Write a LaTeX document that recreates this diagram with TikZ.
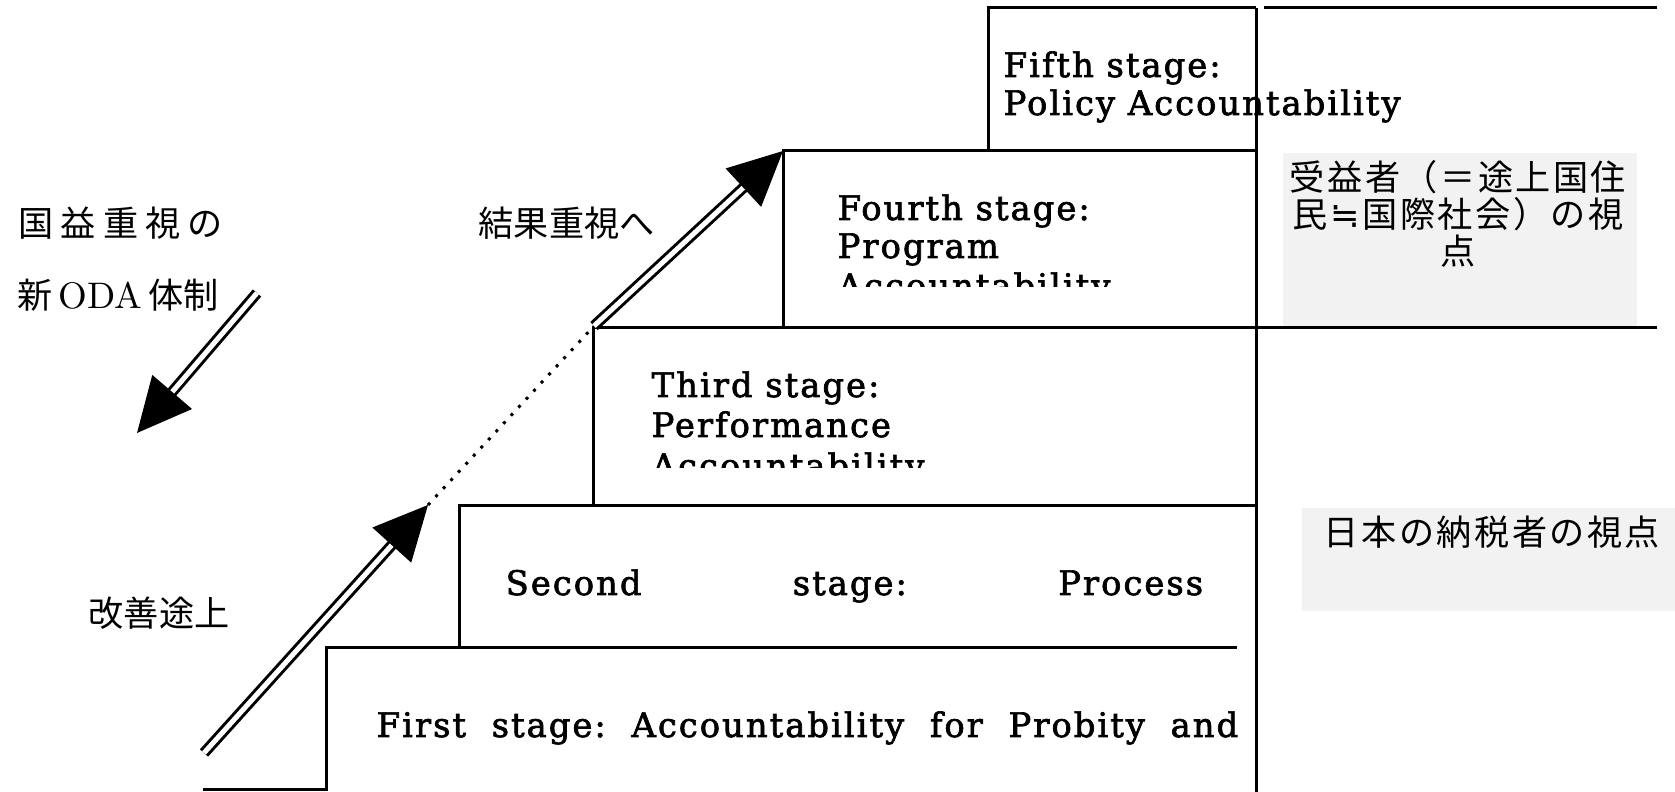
\documentclass[tikz,border=0pt]{standalone}
\usepackage{fontspec}
\newfontfamily\cjk{Noto Sans CJK JP}
\newfontfamily\symfont{DejaVu Sans}
\newfontfamily\stagefont{DejaVu Serif}[LetterSpace=6,FakeBold=2]
\usetikzlibrary{calc,arrows.meta}

\begin{document}
\begin{tikzpicture}[x=0.01cm,y=-0.01cm,
	stepline/.style={line width=0.03cm},
	stagetext/.style={anchor=base west,inner sep=0pt,font=\stagefont\fontsize{9.6pt}{11pt}\selectfont},
	jtext/.style={anchor=west,inner sep=0pt,font=\cjk\fontsize{10pt}{12pt}\selectfont},
	dblshaft/.style={double,double distance=0.05cm,line width=0.03cm,shorten >=0.4cm},
	headtip/.style={-{Triangle[length=0.54cm,width=0.52cm]},line width=0.4pt},
	shade/.style={fill=black!5,draw=none}]
	\useasboundingbox (0,0) rectangle (1675,792);
	\fill[shade] (1283,153) rectangle (1637,327); %受益者
	\fill[shade] (1302,508) rectangle (1675,611); %納税者
	% stage texts
	\foreach \y/\t in {77/Fifth stage:,115/Policy Accountability}
		\node[stagetext] (s5-\y) at (1003,\y) {\t};
	\begin{scope}
		\clip (783,151) rectangle (1256,287);
		\foreach \y/\t in {220/Fourth stage:,258/Program,298/Accountability}
			\node[stagetext] (s4-\y) at (837,\y) {\t};
	\end{scope}
	\begin{scope}
		\clip (593,328) rectangle (1256,468);
		\foreach \y/\t in {397/Third stage:,437/Performance,478/Accountability}
			\node[stagetext] (s3-\y) at (651,\y) {\t};
	\end{scope}
	\node[stagetext] (s2) at (505,595) {\hbox to 6.97cm{Second\hfill stage:\hfill Process}};
	\node[stagetext] (s1) at (376,737) {\hbox to 8.61cm{First\hfill stage:\hfill Accountability\hfill for\hfill Probity\hfill and}};
	% steps
	\draw[stepline] (203,790) -- (326,790) -- (326,648) -- (459,648);
	\foreach \xa/\ya/\yb in {459/648/506,593/506/328,783/328/151,988/151/8}
		\draw[stepline] (\xa,\ya) -- (\xa,\yb) -- (1256,\yb);
	\draw[stepline] (459,648) -- (1237,648);
	\draw[stepline] (1256,328) -- (1657,328);
	\draw[stepline] (1256,8) -- (1256,792); %視点の区切り
	\draw[stepline] (1264,8) -- (1657,8);
	% arrows
	\coordinate (lo0) at (204,753);
	\coordinate (lo1) at (428,505);
	\coordinate (up0) at (594,326);
	\coordinate (up1) at (783,151);
	\coordinate (dn0) at (257,293);
	\coordinate (dn1) at (137,433);
	\draw[line width=0.03cm,dash pattern=on 0.85pt off 2.3pt] (lo1) -- (up0);
	\foreach \a/\b in {lo0/lo1,up0/up1,dn0/dn1}{
		\draw[dblshaft] (\a) -- (\b);
		\draw[headtip] ($(\b)!0.5cm!(\a)$) -- (\b);
	}
	% labels
	\node[jtext,font=\cjk\addfontfeature{LetterSpace=20}\fontsize{10pt}{12pt}\selectfont] (kokueki) at (18,223) {国益重視の};
	\node[jtext] (shinoda) at (17,295) {新\,{\rmfamily\fontsize{10.5pt}{12pt}\selectfont ODA}\,体制};
	\node[jtext] (kaizen) at (88,613) {改善途上};
	\node[jtext] (kekka) at (478,223) {結果重視へ};
	\node[jtext,anchor=center,align=center,font=\cjk\addfontfeature{LetterSpace=7}\fontsize{10pt}{10.5pt}\selectfont] (jueki) at (1458,214) {受益者（＝途上国住\\民\makebox[1em]{\symfont ≒}国際社会）の視\\点};
	\node[jtext,anchor=center,font=\cjk\addfontfeature{LetterSpace=7}\fontsize{10pt}{12pt}\selectfont] (nozei) at (1492,532) {日本の納税者の視点};
\end{tikzpicture}
\end{document}
